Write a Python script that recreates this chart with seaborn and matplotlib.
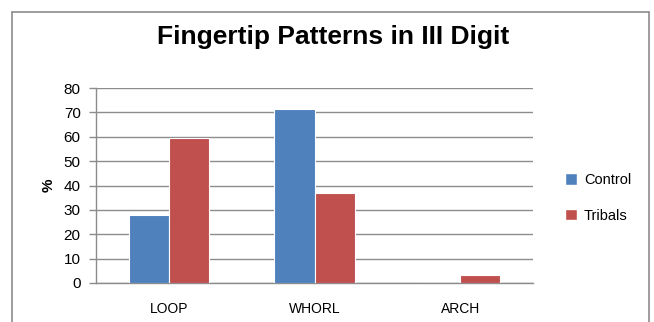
import matplotlib
matplotlib.use("Agg")
import matplotlib.pyplot as plt
from matplotlib.lines import Line2D
from matplotlib.patches import Patch
import seaborn as sns
import pandas as pd

# Fingertip pattern frequencies (%) on the third digit
patterns = ["LOOP", "WHORL", "ARCH"]
groups = ["Control", "Tribals"]
control_pct = [28, 71.5, 0]
tribal_pct = [59.5, 37, 3.3]
y_ticks = [0, 10, 20, 30, 40, 50, 60, 70, 80]

df = pd.DataFrame({
    "Pattern": patterns * 2,
    "Group": [groups[0]] * 3 + [groups[1]] * 3,
    "Percent": control_pct + tribal_pct,
})

sns.set_theme(style="white")
plt.rcParams["font.family"] = ["Liberation Sans", "DejaVu Sans"]
plt.rcParams["text.color"] = "black"

W, H = 654, 322
fig = plt.figure(figsize=(W / 100, H / 100), dpi=100)
ax = fig.add_axes([96 / W, 1 - 283 / H, (533 - 96) / W, (283 - 88) / H])

palette = {"Control": "#4F81BD", "Tribals": "#C0504D"}
sns.barplot(data=df, x="Pattern", y="Percent", hue="Group", order=patterns,
            hue_order=groups, palette=palette, width=0.55, saturation=1,
            edgecolor="white", linewidth=0.8, ax=ax, legend=False, zorder=3)

ax.set_ylim(0, 80)
ax.set_xlim(-0.5, 2.5)
ax.set_yticks(y_ticks)
ax.yaxis.grid(True, color="#8c8c8c", linewidth=1.0, zorder=0)
ax.set_axisbelow(True)
for side in ["top", "right"]:
    ax.spines[side].set_visible(False)
ax.spines["left"].set_color("#8c8c8c")
ax.spines["bottom"].set_color("#8c8c8c")
ax.spines["left"].set_linewidth(1.0)
ax.spines["bottom"].set_linewidth(1.0)
ax.tick_params(axis="y", which="both", left=True, length=5, width=1.0,
               color="#8c8c8c", labelsize=11, pad=6, labelcolor="black")
ax.tick_params(axis="x", bottom=False, length=0, labelsize=10, pad=14,
               labelcolor="black")
ax.set_xlabel("")
ax.set_ylabel("%", fontsize=11, fontweight="bold", labelpad=6, color="black")

fig.text(333 / W, 1 - 37 / H, "Fingertip Patterns in III Digit",
         ha="center", va="center", fontsize=19, fontweight="bold",
         color="black")

handles = [Patch(facecolor=palette[g], edgecolor="white") for g in groups]
fig.legend(handles, groups, loc="center left",
           bbox_to_anchor=(552 / W, 1 - 198 / H), frameon=False,
           fontsize=10.5, handlelength=0.8, handleheight=0.8,
           handletextpad=0.5, labelspacing=1.5, labelcolor="black")

# outer chart frame
frame_kw = dict(color="#8c8c8c", linewidth=1.2, transform=fig.transFigure)
fig.add_artist(Line2D([12 / W, 12 / W], [0, 1 - 12 / H], **frame_kw))
fig.add_artist(Line2D([649 / W, 649 / W], [0, 1 - 12 / H], **frame_kw))
fig.add_artist(Line2D([12 / W, 649 / W], [1 - 12 / H, 1 - 12 / H], **frame_kw))

fig.savefig("out.png", dpi=100, facecolor="white")
